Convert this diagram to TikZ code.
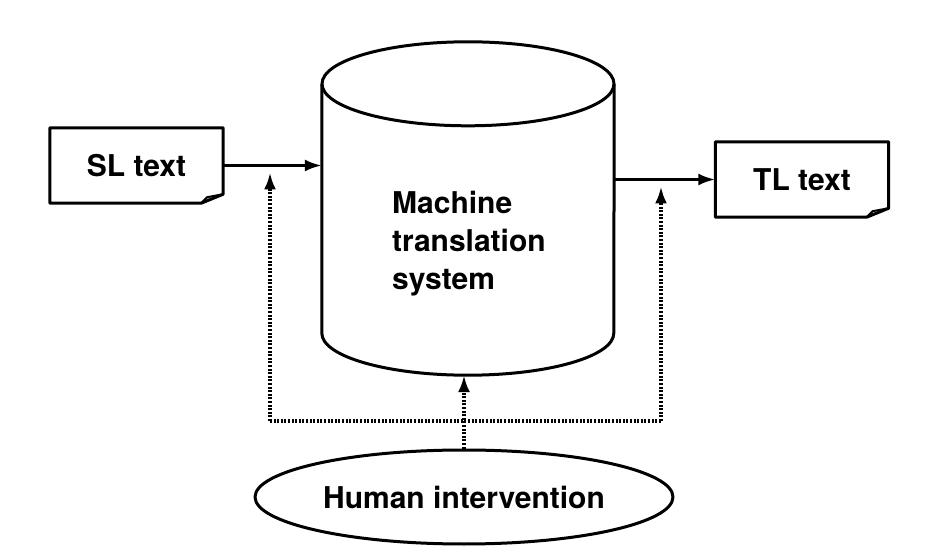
\documentclass[tikz,border=0pt]{standalone}
\usepackage{fontspec}
\setmainfont{TeX Gyre Heros}
\usetikzlibrary{arrows.meta,calc,shapes.geometric}

\begin{document}
\begin{tikzpicture}[x=1pt,y=-1pt,
  every node/.style={font=\fontsize{30}{38}\selectfont\bfseries, inner sep=0pt},
  doc/.style={minimum width=173pt, minimum height=75pt},
  outline/.style={line width=3pt, line join=round},
  tip/.style={-{Latex[length=17pt,width=12pt]}},
  flow/.style={line width=3pt, tip},
  dotline/.style={line width=3.2pt, dash pattern=on 2pt off 1.6pt},
  dotflow/.style={dotline, tip, shorten >=7pt},
  dotin/.style={dotline, tip}
]
\useasboundingbox (0,0) rectangle (930,548);

% documents with a dog-eared corner
\node[doc] (sl) at (136.5,165.5) {SL text};
\node[doc] (tl) at (802,179.5) {TL text};
\foreach \d in {sl,tl}{
  \draw[outline] (\d.north west) -- (\d.north east)
    -- ([yshift=9pt]\d.south east) -- ([xshift=-22pt]\d.south east)
    -- (\d.south west) -- cycle;
  \draw[line width=2pt, line join=round] ([xshift=-22pt]\d.south east)
    -- ([xshift=-16pt,yshift=6pt]\d.south east) -- ([yshift=9pt]\d.south east);
}

% the system as a cylinder
\node[minimum width=292pt, minimum height=333pt] (mt) at (468,208.5) {};
\draw[outline] ([yshift=-42pt]mt.north west) -- ([yshift=42pt]mt.south west)
  arc[start angle=180, end angle=360, x radius=146pt, y radius=42pt]
  -- ([yshift=-42pt]mt.north east);
\draw[outline] ([yshift=-42pt]mt.north) ellipse [x radius=146pt, y radius=42pt];
\node[align=left, anchor=west] (mtlabel) at (392,244) {Machine\\translation\\system};

% human side
\node[draw, ellipse, outline, minimum width=418pt, minimum height=94pt] (hi) at (464,497) {Human intervention};

% main flow
\draw[flow] (sl.east) -- (sl.east -| mt.west);
\draw[flow] (tl.west -| mt.east) -- (tl.west);

% intervention paths
\coordinate (lb) at (270,421);
\coordinate (rb) at (661,421);
\draw[dotline] (lb) -- (rb);
\draw[dotflow] (lb) -- (lb |- sl.east);
\draw[dotflow] (rb) -- (rb |- tl.west);
\draw[dotin] (hi.north) -- (hi.north |- mt.south);
\end{tikzpicture}
\end{document}
